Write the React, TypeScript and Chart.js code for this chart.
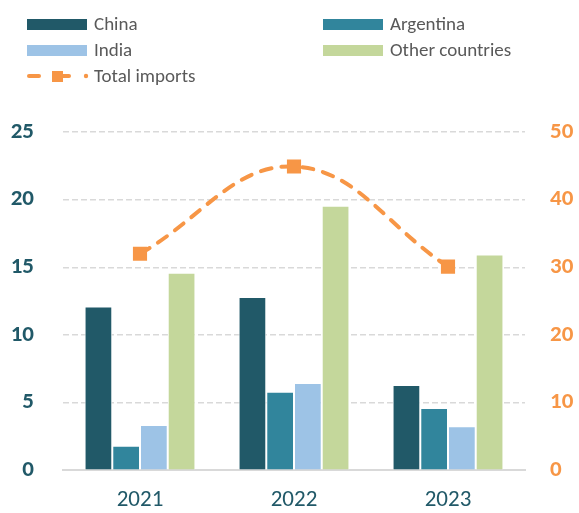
import React, { useEffect, useRef } from "react";
import { Chart, registerables } from "chart.js";

Chart.register(...registerables);

const years = ["2021", "2022", "2023"];
const china = [12.1, 12.8, 6.3];
const argentina = [1.8, 5.8, 4.6];
const india = [3.35, 6.45, 3.25];
const otherCountries = [14.6, 19.55, 15.95];
const totalImports = [32.0, 44.9, 30.1];

const leftTicks = [0, 5, 10, 15, 20, 25];
const rightTicks = [0, 10, 20, 30, 40, 50];

const C_CHINA = "#215968";
const C_ARG = "#31859C";
const C_INDIA = "#9DC3E6";
const C_OTHER = "#C4D79B";
const C_TOTAL = "#F79646";
const FONT = "Carlito, Lato, 'Open Sans', sans-serif";

const barSeries = [
  { label: "China", data: china, color: C_CHINA },
  { label: "Argentina", data: argentina, color: C_ARG },
  { label: "India", data: india, color: C_INDIA },
  { label: "Other countries", data: otherCountries, color: C_OTHER },
];

function BoxSwatch({ color }: { color: string }) {
  return <span style={{ display: "inline-block", width: 60, height: 11, background: color }} />;
}

function LineSwatch() {
  return (
    <svg width={64} height={14} style={{ display: "block" }}>
      <line x1={2} y1={7} x2={12} y2={7} stroke={C_TOTAL} strokeWidth={4} strokeLinecap="round" />
      <line x1={34} y1={7} x2={42} y2={7} stroke={C_TOTAL} strokeWidth={4} strokeLinecap="round" />
      <rect x={25} y={2} width={11} height={11} fill={C_TOTAL} />
      <circle cx={59} cy={7} r={2.2} fill={C_TOTAL} />
    </svg>
  );
}

export default function App() {
  const ref = useRef<HTMLCanvasElement | null>(null);

  useEffect(() => {
    if (!ref.current) return;
    const chart = new Chart(ref.current, {
      type: "bar",
      data: {
        labels: years,
        datasets: [
          {
            type: "line",
            label: "Total imports",
            data: totalImports,
            yAxisID: "y1",
            borderColor: C_TOTAL,
            backgroundColor: C_TOTAL,
            borderWidth: 4,
            borderDash: [11, 10],
            borderCapStyle: "round",
            tension: 0.4,
            pointStyle: "rect",
            pointRadius: 10,
            pointBorderWidth: 0,
            pointBackgroundColor: C_TOTAL,
            order: 0,
          } as any,
          ...barSeries.map((s) => ({
            type: "bar" as const,
            label: s.label,
            data: s.data,
            yAxisID: "y",
            backgroundColor: s.color,
            borderColor: "#ffffff",
            borderWidth: 1,
            categoryPercentage: 0.72,
            barPercentage: 1,
            order: 1,
          })),
        ],
      },
      options: {
        responsive: false,
        animation: false,
        layout: { padding: { top: 132, bottom: 0, left: 0, right: 0 } },
        plugins: { legend: { display: false }, tooltip: { enabled: false }, title: { display: false } },
        scales: {
          x: {
            grid: { display: false, drawTicks: false },
            border: { display: true, color: "#D9D9D9", width: 2 },
            ticks: { color: C_CHINA, font: { family: FONT, size: 23 }, padding: 16 },
            afterFit: (s: any) => { s.height = 41; },
          },
          y: {
            position: "left",
            min: 0,
            max: 25,
            afterBuildTicks: (s: any) => { s.ticks = leftTicks.map((v) => ({ value: v })); },
            grid: { color: "#D9D9D9", lineWidth: 1.5, drawTicks: false },
            border: { display: false, dash: [6, 3] },
            ticks: { color: C_CHINA, font: { family: FONT, size: 23, weight: "bold" }, padding: 29 },
            afterFit: (s: any) => { s.width = 63; },
          },
          y1: {
            position: "right",
            min: 0,
            max: 50,
            afterBuildTicks: (s: any) => { s.ticks = rightTicks.map((v) => ({ value: v })); },
            grid: { display: false, drawTicks: false },
            border: { display: false },
            ticks: { color: C_TOTAL, font: { family: FONT, size: 23, weight: "bold" }, padding: 25 },
            afterFit: (s: any) => { s.width = 54; },
          },
        },
      } as any,
    });
    return () => chart.destroy();
  }, []);

  const textStyle: React.CSSProperties = { fontFamily: FONT, fontSize: 19, color: "#595959", lineHeight: "26px" };

  return (
    <div style={{ position: "absolute", left: 0, top: 0, width: 579, height: 513, background: "#fff" }}>
      <canvas ref={ref} width={579} height={513} style={{ position: "absolute", left: 0, top: 0 }} />
      <div style={{ position: "absolute", left: 27, top: 11, width: 560 }}>
        {[0, 1].map((row) => (
          <div key={row} style={{ display: "flex", alignItems: "center", height: 26 }}>
            {[0, 1].map((col) => {
              const s = barSeries[row * 2 + col];
              return (
                <div key={col} style={{ display: "flex", alignItems: "center", width: col === 0 ? 296 : 260 }}>
                  <BoxSwatch color={s.color} />
                  <span style={{ ...textStyle, marginLeft: 7 }}>{s.label}</span>
                </div>
              );
            })}
          </div>
        ))}
        <div style={{ display: "flex", alignItems: "center", height: 26 }}>
          <LineSwatch />
          <span style={{ ...textStyle, marginLeft: 3 }}>Total imports</span>
        </div>
      </div>
    </div>
  );
}
